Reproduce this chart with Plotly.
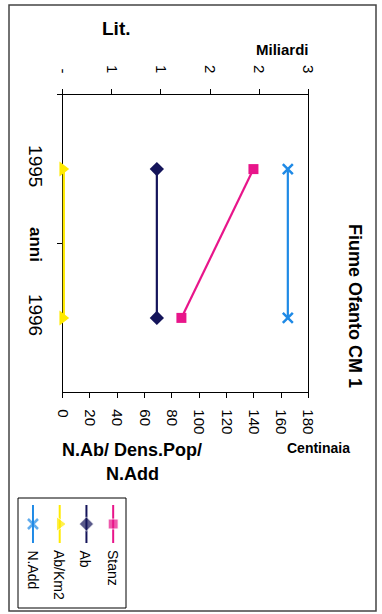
import plotly.graph_objects as go

W, H = 382, 614
FONT = "Liberation Sans, Arial, sans-serif"

# ---------------- data ----------------
years = ["1995", "1996"]
stanz = [2.33, 1.45]        # Lit. (Miliardi) - secondary (top) axis
ab = [69, 69]               # Centinaia
ab_km2 = [0, 0]
n_add = [165, 165]

bottom_tickvals = [0, 20, 40, 60, 80, 100, 120, 140, 160, 180]
top_tickvals = [0, 0.6, 1.2, 1.8, 2.4, 3.0]
top_ticktext = ["-", "1", "1", "2", "2", "3"]

# name, values, axis, color, symbol, marker size
series = [
    ("N.Add", n_add, "x", "#1f8ae6", "x-thin", 10),
    ("Ab/Km2", ab_km2, "x", "#ffea00", "triangle-right", 13),
    ("Ab", ab, "x", "#14145a", "diamond", 11),
    ("Stanz", stanz, "x2", "#e8158a", "square", 10),
]


def px(x):
    return x / W


def py(y):
    return 1 - y / H


def marker(sym, col, size):
    mk = dict(symbol=sym, size=size, color=col)
    if sym == "x-thin":
        mk["line"] = dict(color=col, width=2.5)
    return mk


fig = go.Figure()

for name, vals, ax, col, sym, ms in series:
    fig.add_trace(go.Scatter(
        x=vals, y=years, xaxis=ax, yaxis="y", mode="lines+markers",
        name=name, line=dict(color=col, width=4.5 if sym == "triangle-right" else 2.2),
        marker=marker(sym, col, ms), cliponaxis=False, showlegend=False))

# legend samples drawn in a small hidden subplot (rotated legend)
leg_y = [7, 26, 45]
for i, (name, vals, ax, col, sym, ms) in enumerate(series):
    fig.add_trace(go.Scatter(
        x=[i, i, i], y=leg_y, xaxis="x3", yaxis="y3", mode="lines+markers",
        line=dict(color=col, width=2), marker=marker(sym, col, [0, ms, 0]),
        showlegend=False, hoverinfo="skip", cliponaxis=False))

tickfont = dict(family=FONT, size=15, color="black")
x_dom = [px(62.7), px(308.3)]
y_dom = [py(392.3), py(94.7)]

fig.update_layout(
    width=W, height=H,
    margin=dict(l=0, r=0, t=0, b=0),
    paper_bgcolor="white", plot_bgcolor="white",
    template="none",
    showlegend=False,
    xaxis=dict(domain=x_dom, anchor="y", range=[0, 180], tickvals=bottom_tickvals,
               tickangle=90, ticks="outside", ticklen=5, tickcolor="black",
               showline=True, linecolor="black", linewidth=1, showgrid=False,
               zeroline=False, tickfont=tickfont, automargin=False,
               ticklabelstandoff=8, layer="below traces"),
    xaxis2=dict(overlaying="x", side="top", anchor="y", range=[0, 3],
                tickvals=top_tickvals, ticktext=top_ticktext, tickangle=90,
                ticks="outside", ticklen=5, tickcolor="black", showline=True,
                linecolor="black", linewidth=1, showgrid=False, zeroline=False,
                tickfont=tickfont, automargin=False, ticklabelstandoff=10,
                layer="below traces"),
    yaxis=dict(domain=y_dom, anchor="x", type="category", categoryarray=years,
               range=[1.5, -0.5], tickson="boundaries", ticks="outside", ticklen=5,
               tickcolor="black", tickangle=90, showline=True, linecolor="black",
               linewidth=1, mirror=True, showgrid=False, zeroline=False,
               layer="below traces",
               tickfont=dict(family=FONT, size=19, color="black"), automargin=False,
               ticklabelstandoff=10),
    xaxis3=dict(domain=[px(18), px(126)], anchor="y3", range=[-0.56, 3.48],
                visible=False, fixedrange=True),
    yaxis3=dict(domain=[py(608), py(498)], anchor="x3", range=[110, 0],
                visible=False, fixedrange=True),
)

ann = []


def add_text(text, x, y, size, bold=True, angle=0, xanchor="center", yanchor="middle"):
    ann.append(dict(text=f"<b>{text}</b>" if bold else text, x=px(x), y=py(y),
                    xref="paper", yref="paper", showarrow=False, textangle=angle,
                    xanchor=xanchor, yanchor=yanchor,
                    font=dict(family=FONT, size=size, color="black")))


add_text("Lit.", 116, 28, 19)
add_text("Miliardi", 282, 49, 15)
add_text("N.Ab/ Dens.Pop/", 132, 450, 18)
add_text("N.Add", 132, 474, 18)
add_text("Centinaia", 318, 448, 14)
add_text("anni", 35, 244, 17, angle=90)
add_text("Fiume Ofanto CM 1", 355, 306, 18, angle=90)

leg_x = [33, 59, 85, 113]
for (name, *_), lx in zip(series, leg_x):
    add_text(name, lx, 548, 14, bold=False, angle=90, yanchor="top")

fig.update_layout(annotations=ann)

shapes = [
    # legend box
    dict(type="rect", xref="paper", yref="paper", x0=px(18), x1=px(126),
         y0=py(608), y1=py(498), line=dict(color="black", width=1)),
    # outer chart frame
    dict(type="rect", xref="paper", yref="paper", x0=px(9), x1=px(376),
         y0=py(611), y1=py(5), line=dict(color="#444", width=1.5)),
]
fig.update_layout(shapes=shapes)

fig.write_html("out.html", config={"displayModeBar": False},
               post_script="document.body.style.margin='0';document.body.style.overflow='hidden';")
